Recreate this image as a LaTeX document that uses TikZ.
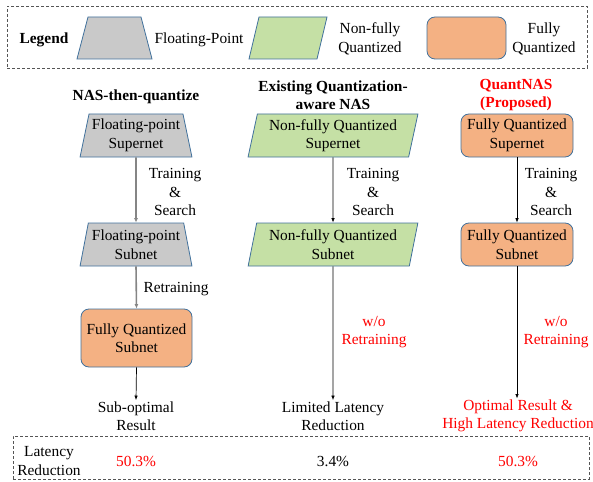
\documentclass[tikz,border=0pt]{standalone}
\usepackage{fontspec}
\setmainfont{Liberation Serif}
\usetikzlibrary{shapes.geometric,arrows.meta}
\definecolor{fpgray}{HTML}{C9C9C9}
\definecolor{nfqgreen}{HTML}{C5E0A5}
\definecolor{fqorange}{HTML}{F4B183}
\definecolor{edgeblue}{HTML}{41719C}
\definecolor{flowgray}{HTML}{858585}
\definecolor{boxgray}{HTML}{555555}
\tikzset{
  txt/.style={font=\fontsize{15.4}{18.5}\selectfont, align=center, inner sep=1pt},
  fpshape/.style={txt, trapezium, trapezium stretches=true, trapezium left angle=76,
    trapezium right angle=76, fill=fpgray, draw=edgeblue, line width=0.8pt, inner sep=1pt},
  nfqshape/.style={txt, trapezium, trapezium stretches=true, trapezium left angle=77,
    trapezium right angle=103, fill=nfqgreen, draw=edgeblue, line width=0.8pt, inner sep=1pt},
  fqshape/.style={txt, rectangle, rounded corners=8pt, fill=fqorange, draw=edgeblue,
    line width=0.8pt, inner sep=1pt},
  dashbox/.style={draw=boxgray, line width=0.8pt, dash pattern=on 3pt off 2pt, rectangle},
  flowfp/.style={draw=flowgray, line width=1.6pt, -{Latex[length=4.5pt,width=4pt]}},
  flow/.style={draw=black, line width=0.7pt, -{Latex[length=4.5pt,width=3.5pt]}},
  hl/.style={text=red},
}
\begin{document}
\begin{tikzpicture}[x=1pt,y=-1pt]
\useasboundingbox (0,0) rectangle (593,481);

% legend
\node (legendbox) [dashbox, minimum width=580pt, minimum height=62pt] at (297,37) {};
\node (legendlabel) [txt] at (44,40) {\textbf{Legend}};
\node (legfp) [fpshape, trapezium left angle=75.3, trapezium right angle=75.3,
  minimum width=75pt, minimum height=42pt] at (114.5,38) {\rule{51pt}{0pt}\rule{0pt}{40pt}};
\node (legfptxt) [txt] at (199,40) {Floating-Point};
\node (legnfq) [nfqshape, trapezium left angle=76.6, trapezium right angle=103.4,
  minimum width=78pt, minimum height=42pt] at (288,38) {\rule{56pt}{0pt}\rule{0pt}{40pt}};
\node (legnfqtxt) [txt] at (370,39) {Non-fully\\Quantized};
\node (legfq) [fqshape, minimum width=79pt, minimum height=42pt] at (466.5,38) {};
\node (legfqtxt) [txt] at (544,39) {Fully\\Quantized};

% column titles
\node (t1) [txt] at (136,97) {\textbf{NAS-then-quantize}};
\node (t2) [txt] at (333,95) {\textbf{Existing Quantization-}\\\textbf{aware NAS}};
\node (t3) [txt, hl] at (516,95) {\textbf{QuantNAS}\\\textbf{(Proposed)}};

% NAS-then-quantize
\node (c1a) [fpshape, minimum width=112pt, minimum height=43pt] at (136,135.5) {Floating-point\\Supernet};
\node (c1b) [fpshape, minimum width=112pt, minimum height=43pt] at (136,244.5) {Floating-point\\Subnet};
\node (c1c) [fqshape, minimum width=111pt, minimum height=58pt] at (136.5,338) {Fully Quantized\\Subnet};
\node (c1r) [txt] at (136,416) {Sub-optimal\\Result};
\draw[flowfp] (c1a.south) -- (c1b.north);
\draw[flowfp] (c1b.south) -- (c1c.north);
\draw[flow] (c1c.south) -- (c1r.north);
\node (c1l1) [txt] at (175,192) {Training\\\&\\Search};
\node (c1l2) [txt] at (176,289) {Retraining};

% Existing quantization-aware NAS
\node (c2a) [nfqshape, minimum width=170pt, minimum height=43pt] at (333,135.5) {Non-fully Quantized\\Supernet};
\node (c2b) [nfqshape, minimum width=170pt, minimum height=43pt] at (333,244.5) {Non-fully Quantized\\Subnet};
\node (c2r) [txt] at (333,416) {Limited Latency\\Reduction};
\draw[flow] (c2a.south) -- (c2b.north);
\draw[flow] (c2b.south) -- (c2r.north);
\node (c2l1) [txt] at (373,192) {Training\\\&\\Search};
\node (c2l2) [txt, hl] at (374,332) {w/o\\Retraining};

% QuantNAS
\node (c3a) [fqshape, minimum width=112pt, minimum height=43pt] at (517,135.5) {Fully Quantized\\Supernet};
\node (c3b) [fqshape, minimum width=112pt, minimum height=43pt] at (517,244.5) {Fully Quantized\\Subnet};
\node (c3r) [txt, hl] at (518,416) {Optimal Result \&\\High Latency Reduction};
\draw[flow] (c3a.south) -- (c3b.north);
\draw[flow] (c3b.south) -- (c3b.south |- c3r.north);
\node (c3l1) [txt] at (551,192) {Training\\\&\\Search};
\node (c3l2) [txt, hl] at (556,332) {w/o\\Retraining};

% latency reduction row
\node (latbox) [dashbox, minimum width=576pt, minimum height=43pt] at (301,457.5) {};
\node (latlabel) [txt] at (49,461) {Latency\\Reduction};
\node (lat1) [txt, hl] at (136,461) {50.3\%};
\node (lat2) [txt] at (333,461) {3.4\%};
\node (lat3) [txt, hl] at (518,461) {50.3\%};
\end{tikzpicture}
\end{document}
